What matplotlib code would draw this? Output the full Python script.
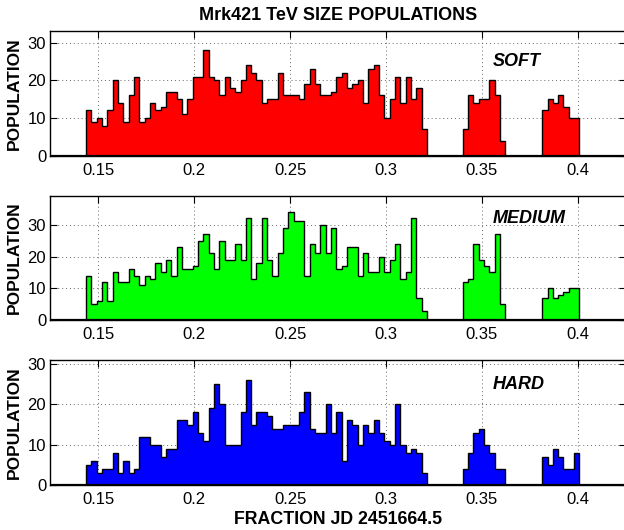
import numpy as np
import matplotlib
matplotlib.use("Agg")
import matplotlib.pyplot as plt

plt.rcParams["font.family"] = ["Liberation Sans", "DejaVu Sans"]

# 4 minute bins, in fraction of a day
BIN = 1.0 / 360.0

# start of each observing block (fraction of JD 2451664.5)
block_start = [0.1436, 0.3400, 0.3815]

soft_main = [12, 9, 10, 8, 12, 20, 14, 9, 16, 21, 9, 10, 14, 12, 13, 17,
             17, 15, 11, 15, 21, 21, 28, 21, 20, 16, 21, 18, 17, 20, 24, 22,
             20, 14, 15, 15, 22, 16, 16, 16, 15, 19, 23, 19, 16, 16, 17, 21,
             22, 18, 19, 20, 14, 23, 24, 16, 10, 15, 21, 14, 21, 15, 18, 7]
soft_b2 = [7, 16, 14, 15, 15, 20, 16, 4]
soft_b3 = [12, 15, 14, 16, 13, 10, 10]

medium_main = [14, 5, 6, 12, 6, 15, 12, 12, 16, 14, 11, 14, 13, 18, 15, 19,
               14, 23, 16, 16, 17, 25, 27, 21, 16, 25, 19, 19, 24, 19, 32, 13,
               18, 32, 19, 14, 21, 29, 34, 31, 31, 14, 24, 21, 30, 21, 29, 16,
               17, 23, 23, 14, 21, 15, 15, 20, 15, 19, 24, 13, 15, 32, 7, 3]
medium_b2 = [12, 13, 24, 19, 17, 15, 27, 5]
medium_b3 = [7, 10, 7, 8, 9, 10, 10]

hard_main = [5, 6, 3, 4, 4, 8, 3, 6, 3, 4, 12, 12, 10, 10, 7, 9,
             9, 16, 16, 15, 18, 13, 11, 19, 25, 20, 10, 10, 10, 18, 26, 15,
             18, 18, 17, 14, 14, 15, 15, 15, 18, 23, 14, 13, 13, 20, 13, 18,
             6, 16, 15, 10, 15, 13, 16, 13, 11, 10, 20, 10, 8, 9, 8, 3]
hard_b2 = [4, 8, 13, 14, 10, 8, 4, 4]
hard_b3 = [7, 5, 9, 7, 4, 4, 8]

names = ["SOFT", "MEDIUM", "HARD"]
colors = ["#ff0000", "#00ff00", "#0000ff"]
ytops = [33, 39, 31]
label_y = [25, 32, 25]
xticks = [0.15, 0.2, 0.25, 0.3, 0.35, 0.4]
yticks = [0, 10, 20, 30]

data = [
    [soft_main, soft_b2, soft_b3],
    [medium_main, medium_b2, medium_b3],
    [hard_main, hard_b2, hard_b3],
]

fig = plt.figure(figsize=(6.24, 5.30), dpi=100)

W, H = 624.0, 530.0
left = 50.4 / W
width = 575.2 / W
height = 124.4 / H
bottoms_px = [155.7, 320.3, 484.7]

axes = []
for i in range(3):
    ax = fig.add_axes([left, 1 - bottoms_px[i] / H, width, height])
    axes.append(ax)

    for blk, x0 in zip(data[i], block_start):
        counts = np.array(blk, dtype=float)
        edges = x0 + np.arange(len(counts) + 1) * BIN
        ax.stairs(counts, edges, fill=True, facecolor=colors[i],
                  edgecolor="k", linewidth=1.0, zorder=2)

    ax.set_xlim(0.125, 0.425)
    ax.set_ylim(0, ytops[i])
    ax.set_xticks(xticks)
    ax.set_xticklabels(["0.15", "0.2", "0.25", "0.3", "0.35", "0.4"])
    ax.set_yticks(yticks)
    ax.grid(True, color="0.4", linestyle=(0, (1, 3)), linewidth=0.7, zorder=0)
    ax.set_axisbelow(True)
    ax.tick_params(direction="in", top=True, right=True, length=5,
                   width=0.8, labelsize=12)
    ax.tick_params(axis="x", pad=5)
    ax.tick_params(axis="y", pad=3)
    for s in ax.spines.values():
        s.set_linewidth(1.0)
    ax.axhline(0, color="k", lw=1.6, zorder=3)

    ax.set_ylabel("POPULATION", fontsize=12.5, fontweight="bold")
    ax.yaxis.set_label_coords(-0.049, 0.5)

    ax.text(0.3555, label_y[i], names[i], fontsize=13, fontweight="bold",
            fontstyle="italic", ha="left", va="center")

axes[0].set_title("Mrk421 TeV SIZE POPULATIONS", fontsize=13,
                  fontweight="bold", pad=8)
axes[2].set_xlabel("FRACTION JD 2451664.5", fontsize=12.8, fontweight="bold")
axes[2].xaxis.set_label_coords(0.5, -0.211)

fig.savefig("out.png", dpi=100)
